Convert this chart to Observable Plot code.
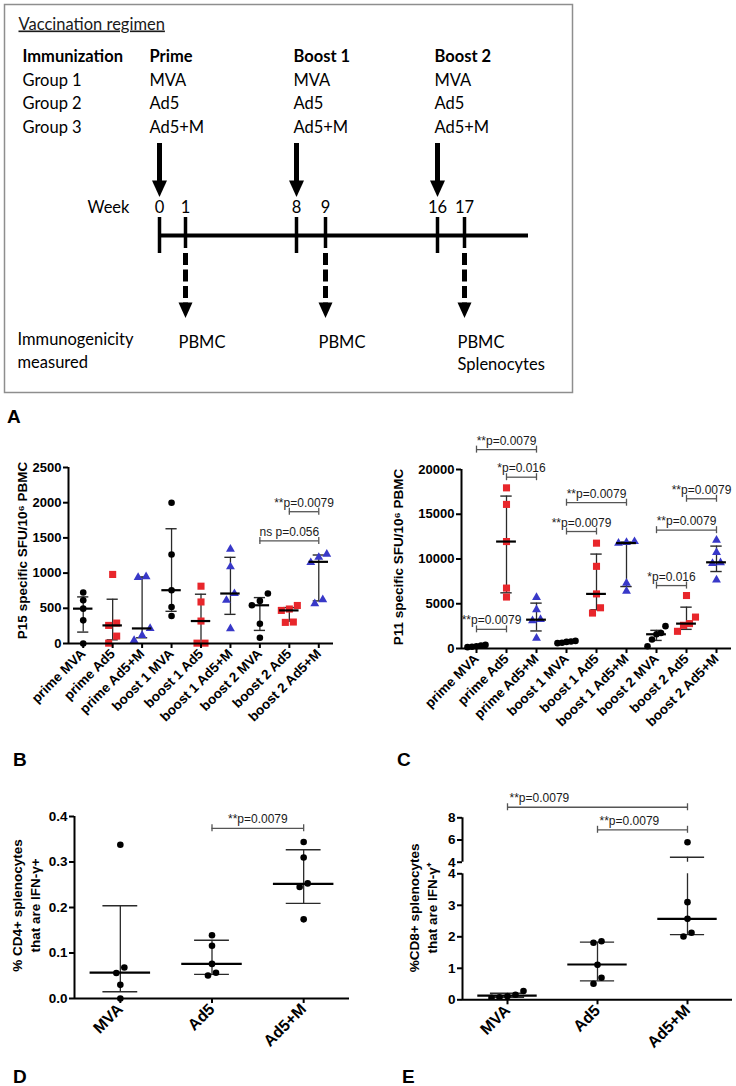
<!DOCTYPE html>
<html><head><meta charset="utf-8">
<script src="https://cdn.jsdelivr.net/npm/d3@7"></script>
<script src="https://cdn.jsdelivr.net/npm/@observablehq/plot@0.6"></script>
<style>
html,body{margin:0;padding:0;background:#fff;}
#page{position:relative;width:736px;height:1086px;overflow:hidden;background:#fff;}
.letter{position:absolute;font:bold 19px "Liberation Sans",Arial,sans-serif;line-height:19px;color:#000;}
</style></head><body><div id="page"></div>
<script>
// ---------------- DATA ----------------
// Vaccination regimen diagram
const immunizationSteps = ["Prime", "Boost 1", "Boost 2"];
const immunizationWeeks = [0, 8, 16];
const groupNames = ["Group 1", "Group 2", "Group 3"];
const groupVaccines = ["MVA", "Ad5", "Ad5+M"];
const weekTicks = [0, 1, 8, 9, 16, 17];
const measureWeeks = [1, 9, 17];
const measureLabels = ["PBMC", "PBMC", "PBMC\nSplenocytes"];

// Panels A-left (P15) and A-right (P11)
const categoriesBC = ["prime MVA", "prime Ad5", "prime Ad5+M", "boost 1 MVA", "boost 1 Ad5", "boost 1 Ad5+M", "boost 2 MVA", "boost 2 Ad5", "boost 2 Ad5+M"];
const vaccineBC = ["MVA", "Ad5", "Ad5+M", "MVA", "Ad5", "Ad5+M", "MVA", "Ad5", "Ad5+M"];

const p15Values = [
  [724, 614, 495, 329, 0],
  [981, 290, 257, 105, 5],
  [950, 940, 214, 114, 43],
  [2000, 1265, 757, 519, 390],
  [814, 590, 319, 5, 5],
  [1340, 1090, 710, 614, 210],
  [710, 605, 543, 281, 81],
  [540, 490, 470, 305, 300],
  [1270, 1225, 1150, 624, 567]
];
const p15Median = [495, 257, 214, 757, 319, 710, 543, 470, 1160];
const p15Lower = [162, 52, 81, 457, 0, 414, 186, 319, 605];
const p15Upper = [662, 629, 945, 1630, 700, 1224, 652, 510, 1257];
const p15Ticks = [0, 500, 1000, 1500, 2000, 2500];
const p15BracketFrom = [7, 6];
const p15BracketTo = [8, 8];
const p15BracketY = [1872, 1457];
const p15BracketLabel = ["**p=0.0079", "ns p=0.056"];

const p11Values = [
  [400, 320, 250, 200, 150],
  [17950, 16100, 11950, 6750, 5750],
  [5700, 4350, 3250, 3100, 1150],
  [850, 780, 740, 650, 600],
  [11770, 9180, 6100, 4550, 3960],
  [11950, 11850, 11780, 7290, 6400],
  [2500, 1730, 1590, 1000, 250],
  [5920, 3510, 2780, 2590, 1920],
  [12100, 10730, 9600, 9500, 7670]
];
const p11Median = [260, 11950, 3220, 740, 6100, 11780, 1590, 2780, 9630];
const p11Lower = [180, 6220, 1960, 620, 4330, 6920, 900, 2140, 8600];
const p11Upper = [350, 17030, 5070, 810, 10550, 11900, 2030, 4620, 11440];
const p11Ticks = [0, 5000, 10000, 15000, 20000];
const p11BracketFrom = [0, 1, 3, 3, 7, 6, 6, 0];
const p11BracketTo = [2, 2, 5, 4, 8, 8, 7, 1];
const p11BracketY = [22220, 19140, 16290, 13070, 16730, 13220, 7030, 2140];
const p11BracketLabel = ["**p=0.0079", "*p=0.016", "**p=0.0079", "**p=0.0079", "**p=0.0079", "**p=0.0079", "*p=0.016", "**p=0.0079"];

// Panels B (CD4) and C (CD8)
const categoriesDE = ["MVA", "Ad5", "Ad5+M"];
const cd4Values = [
  [0.338, 0.068, 0.056, 0.030, 0.0],
  [0.139, 0.116, 0.076, 0.0565, 0.0507],
  [0.344, 0.310, 0.253, 0.245, 0.174]
];
const cd4Median = [0.057, 0.076, 0.252];
const cd4Lower = [0.015, 0.053, 0.209];
const cd4Upper = [0.204, 0.128, 0.327];
const cd4Ticks = [0, 0.1, 0.2, 0.3, 0.4];
const cd4BracketFrom = [1];
const cd4BracketTo = [2];
const cd4BracketY = [0.374];
const cd4BracketLabel = ["**p=0.0079"];

const cd8Values = [
  [0.28, 0.16, 0.11, 0.08, 0.06],
  [1.86, 1.81, 1.11, 0.70, 0.51],
  [5.8, 3.10, 2.57, 2.13, 2.01]
];
const cd8Median = [0.13, 1.12, 2.57];
const cd8Lower = [0.08, 0.60, 2.07];
const cd8Upper = [0.21, 1.83, 4.45];
const cd8LowerTicks = [0, 1, 2, 3, 4];
const cd8UpperTicks = [4, 6, 8];
const cd8BracketFrom = [0, 1];
const cd8BracketTo = [2, 2];
const cd8BracketY = [8.95, 6.92];
const cd8BracketLabel = ["**p=0.0079", "**p=0.0079"];

const panelLetters = ["A", "B", "C", "D", "E"];

// ---------------- STYLE ----------------
const RED = "#e8262b", BLUE = "#3838c8";
const markerStyle = {
  MVA: {fill: "#000", symbol: "circle", r: 3.3},
  Ad5: {fill: RED, symbol: "square", r: 4.0},
  "Ad5+M": {fill: BLUE, symbol: "triangle", r: 3.3}
};
const ARIAL = "'Liberation Sans', Arial, Helvetica, sans-serif";
const page = document.getElementById("page");
function place(el, left, top) {
  el.style.position = "absolute";
  el.style.left = left + "px";
  el.style.top = top + "px";
  page.appendChild(el);
}

// horizontal spreading of overlapping points (scatter-plot layout)
function spreadOffsets(vals, yDomain, frameH, bandPx) {
  const py = d3.scaleLinear(yDomain, [frameH, 0]);
  const idx = d3.range(vals.length).sort((a, b) => vals[a] - vals[b]);
  const off = new Array(vals.length).fill(0);
  let cluster = [idx[0]];
  const flush = () => {
    const m = cluster.length;
    const sp = m > 1 ? Math.min(8, 0.6 * bandPx / (m - 1)) : 0;
    cluster.forEach((j, k) => off[j] = (k - (m - 1) / 2) * sp / bandPx);
  };
  for (let k = 1; k < idx.length; k++) {
    if (Math.abs(py(vals[idx[k]]) - py(vals[idx[k - 1]])) < 7.5) cluster.push(idx[k]);
    else { flush(); cluster = [idx[k]]; }
  }
  flush();
  return off;
}

function chart(o) {
  const n = o.cats.length;
  const frameW = o.width - o.ml - o.mr, frameH = o.height - o.mt - o.mb;
  const bandPx = frameW / n;
  const rows = [];
  o.values.forEach((vals, i) => {
    const off = spreadOffsets(vals, o.spreadDomain || o.yDomain, o.spreadH || frameH, bandPx);
    vals.forEach((v, k) => rows.push({i, v, x: i + off[k], key: o.styleKeys[i]}));
  });
  const groups = o.cats.map((c, i) => ({i, med: o.med[i], lo: o.lo[i], hi: o.hi[i]}));
  const clip = !!o.clip;
  const capW = 0.19, medW = 0.33;
  const EB = "#2a2a2a";
  const marks = [];
  marks.push(Plot.ruleX(groups, {x: "i", y1: "lo", y2: "hi", stroke: EB, strokeWidth: 1.3, clip}));
  marks.push(Plot.ruleY(groups, {y: "lo", x1: d => d.i - capW, x2: d => d.i + capW, stroke: EB, strokeWidth: 1.4, clip}));
  marks.push(Plot.ruleY(groups, {y: "hi", x1: d => d.i - capW, x2: d => d.i + capW, stroke: EB, strokeWidth: 1.4, clip}));
  for (const key of Object.keys(markerStyle)) {
    const s = markerStyle[key];
    marks.push(Plot.dot(rows.filter(d => d.key === key), {x: "x", y: "v", fill: s.fill, symbol: s.symbol, r: s.r, clip}));
  }
  marks.push(Plot.ruleY(groups, {y: "med", x1: d => d.i - medW, x2: d => d.i + medW, stroke: "#000", strokeWidth: 2.2, clip}));
  // axis lines
  marks.push(Plot.ruleX([-0.5], {y1: o.yDomain[0], y2: o.yDomain[1], strokeWidth: 2}));
  if (o.xAxis) marks.push(Plot.ruleY([o.yDomain[0]], {x1: -0.5, x2: n - 0.5, strokeWidth: 2}));
  marks.push(Plot.axisY({ticks: o.yTicks, tickFormat: o.tickFormat, tickSize: 5, tickPadding: 2, strokeWidth: 2,
    fontWeight: "bold", fontSize: o.fs, label: null}));
  if (o.xAxis) marks.push(Plot.axisX({ticks: d3.range(n), tickFormat: i => o.cats[i], tickRotate: -45, tickSize: 5,
    tickPadding: 3, strokeWidth: 2, fontWeight: "bold", fontSize: o.xfs || o.fs, label: null}));
  // significance brackets
  if (o.bFrom) {
    const br = o.bFrom.map((f, k) => ({f, t: o.bTo[k], y: o.bY[k], label: o.bLabel[k]}));
    const BC = "#555";
    marks.push(Plot.ruleY(br, {y: "y", x1: "f", x2: "t", stroke: BC, strokeWidth: 1.3}));
    marks.push(Plot.ruleX(br, {x: "f", y1: "y", y2: "y", insetTop: -3.5, insetBottom: -3.5, stroke: BC, strokeWidth: 1.3}));
    marks.push(Plot.ruleX(br, {x: "t", y1: "y", y2: "y", insetTop: -3.5, insetBottom: -3.5, stroke: BC, strokeWidth: 1.3}));
    const start = o.bAnchor === "start";
    marks.push(Plot.text(br, {x: start ? "f" : d => (d.f + d.t) / 2, y: "y", text: "label",
      textAnchor: start ? "start" : "middle", dx: start ? 2 : 0, dy: -5, lineAnchor: "bottom",
      fontSize: 12, fill: "#1a1a1a"}));
  }
  if (o.title) {
    marks.push(Plot.text([o.title], {frameAnchor: "left", rotate: -90, dx: o.tdx, dy: o.tdy, fontWeight: "bold",
      fontSize: o.tfs, lineHeight: o.tlh || 1.2, lineAnchor: "middle", textAnchor: "middle"}));
  }
  return Plot.plot({
    width: o.width, height: o.height,
    marginLeft: o.ml, marginRight: o.mr, marginTop: o.mt, marginBottom: o.mb,
    style: {background: "transparent", overflow: "visible", fontFamily: ARIAL, fontSize: o.fs + "px", color: "#000"},
    x: {domain: [-0.5, n - 0.5], axis: o.xAxis ? undefined : null},
    y: {domain: o.yDomain},
    marks
  });
}

// ---------------- DIAGRAM ----------------
(function () {
  const fs = 16.5, lh = 23.5 / fs;
  const downHead = {draw(ctx, size) {
    const r = Math.sqrt(size / Math.PI);
    ctx.moveTo(-r, 0); ctx.lineTo(r, 0); ctx.lineTo(0, r * 2.2); ctx.closePath();
  }};
  // schematic (non-proportional) week axis of the timeline drawing
  const weekPosition = d3.scaleLinear([0, 1, 8, 9, 16, 17, 19.3], [156, 182, 293, 322, 434, 461, 525]);
  const colDx = [-10, -3, -3];
  const marks = [
    Plot.frame({stroke: "#8e8e8e", strokeWidth: 1.5, inset: 1}),
    Plot.text(["Vaccination regimen"], {frameAnchor: "left", dx: 15, y: 26, lineAnchor: "bottom", fill: "#1a1a1a"}),
    Plot.text(["Immunization"], {frameAnchor: "left", dx: 19, y: 58, lineAnchor: "bottom", fontWeight: "bold"}),
    Plot.text([groupNames.join("\n")], {frameAnchor: "left", dx: 19, y: 129, lineAnchor: "bottom", lineHeight: lh}),
    Plot.text(["Week"], {frameAnchor: "left", dx: 84, y: 209, lineAnchor: "bottom"}),
    Plot.text(["Immunogenicity\nmeasured"], {frameAnchor: "left", dx: 14, y: 364, lineAnchor: "bottom", lineHeight: 23 / fs}),
    Plot.text(weekTicks, {x: d => d, y: 209, text: d => String(d), lineAnchor: "bottom"}),
    Plot.ruleY([232], {x1: 0, x2: 19.3, strokeWidth: 4}),
    Plot.ruleX(immunizationWeeks, {x: d => d, y1: 214, y2: 250, strokeWidth: 3.5}),
    Plot.ruleX(measureWeeks, {x: d => d, y1: 214, y2: 245, strokeWidth: 3.5}),
    Plot.ruleX(immunizationWeeks, {x: d => d, y1: 140, y2: 180, strokeWidth: 5}),
    Plot.dot(immunizationWeeks, {x: d => d, y: 177, symbol: downHead, r: 7.5, fill: "#000"}),
    Plot.ruleX(measureWeeks, {x: d => d, y1: 250, y2: 301, strokeWidth: 5, strokeDasharray: "12,4.5"}),
    Plot.dot(measureWeeks, {x: d => d, y: 299, symbol: downHead, r: 7, fill: "#000"}),
    Plot.text(measureLabels, {x: measureWeeks, y: 341 - 0.71 * fs, text: d => d, lineAnchor: "top", textAnchor: "start", dx: -7, lineHeight: 22 / fs})
  ];
  immunizationSteps.forEach((step, j) => {
    marks.push(Plot.text([step], {x: [immunizationWeeks[j]], y: 58, dx: colDx[j], textAnchor: "start", lineAnchor: "bottom", fontWeight: "bold"}));
    marks.push(Plot.text([groupVaccines.join("\n")], {x: [immunizationWeeks[j]], y: 129, dx: colDx[j], textAnchor: "start", lineAnchor: "bottom", lineHeight: lh}));
  });
  const svg = Plot.plot({
    width: 570, height: 390, margin: 0,
    style: {background: "transparent", overflow: "visible", fontFamily: "Lato, 'Open Sans', sans-serif", fontSize: fs + "px", color: "#000"},
    x: {type: "linear", transform: weekPosition, domain: [0, 570], range: [0, 570], axis: null},
    y: {type: "identity", axis: null},
    marks
  });
  d3.select(svg).selectAll("text").filter(function () { return this.textContent === "Vaccination regimen"; })
    .style("text-decoration", "underline");
  place(svg, 3, 3);
})();

// ---------------- CHARTS ----------------
const bcStyle = vaccineBC;
place(chart({
  cats: categoriesBC, styleKeys: bcStyle, values: p15Values, med: p15Median, lo: p15Lower, hi: p15Upper,
  yDomain: [0, 2500], yTicks: p15Ticks, tickFormat: d => String(d), fs: 13, xfs: 13.5, xAxis: true,
  width: 370, height: 300, ml: 68, mr: 37, mt: 27, mb: 97,
  bFrom: p15BracketFrom, bTo: p15BracketTo, bY: p15BracketY, bLabel: p15BracketLabel,
  title: "P15 specific SFU/10⁶ PBMC", tdx: -47, tdy: -5, tfs: 13.5
}), 0, 440);

place(chart({
  cats: categoriesBC, styleKeys: bcStyle, values: p11Values, med: p11Median, lo: p11Lower, hi: p11Upper,
  yDomain: [0, 20000], yTicks: p11Ticks, tickFormat: d => String(d), fs: 13, xfs: 13.5, xAxis: true,
  width: 366, height: 320, ml: 91, mr: 5, mt: 49, mb: 92,
  bFrom: p11BracketFrom, bTo: p11BracketTo, bY: p11BracketY, bLabel: p11BracketLabel,
  title: "P11 specific SFU/10⁶ PBMC", tdx: -64, tdy: -2, tfs: 13.5
}), 370, 420);

const deStyle = ["MVA", "MVA", "MVA"]; // all black circles
place(chart({
  cats: categoriesDE, styleKeys: deStyle, values: cd4Values, med: cd4Median, lo: cd4Lower, hi: cd4Upper,
  yDomain: [0, 0.4], yTicks: cd4Ticks, tickFormat: d3.format(".1f"), fs: 13.5, xfs: 16, xAxis: true,
  width: 370, height: 300, ml: 74, mr: 21, mt: 36, mb: 82,
  bFrom: cd4BracketFrom, bTo: cd4BracketTo, bY: cd4BracketY, bLabel: cd4BracketLabel,
  title: "% CD4+ splenocytes\nthat are IFN-γ+", tdx: -49.5, tdy: -2, tfs: 13.5, tlh: 1.4
}), 0, 780);

// broken y axis: upper segment (4-8)
place(chart({
  cats: categoriesDE, styleKeys: deStyle, values: cd8Values, med: cd8Median, lo: cd8Lower, hi: cd8Upper,
  yDomain: [4, 8], yTicks: cd8UpperTicks, tickFormat: d => String(d), fs: 13.5, xAxis: false, clip: true,
  spreadDomain: [0, 4], spreadH: 126,
  width: 366, height: 86, ml: 92, mr: 4, mt: 37.3, mb: 4.3,
  bFrom: cd8BracketFrom, bTo: cd8BracketTo, bY: cd8BracketY, bLabel: cd8BracketLabel, bAnchor: "start"
}), 370, 780);
// lower segment (0-4)
place(chart({
  cats: categoriesDE, styleKeys: deStyle, values: cd8Values, med: cd8Median, lo: cd8Lower, hi: cd8Upper,
  yDomain: [0, 4], yTicks: cd8LowerTicks, tickFormat: d => String(d), fs: 13.5, xfs: 16, xAxis: true, clip: true,
  width: 366, height: 214, ml: 92, mr: 4, mt: 7.3, mb: 80.7,
  title: "%CD8+ splenocytes\nthat are IFN-γ⁺", tdx: -40, tdy: -29, tfs: 13.5, tlh: 1.35
}), 370, 866);

// panel letters
const letterPos = [[7, 423], [13, 766], [397, 766], [13, 1083], [402, 1083]];
panelLetters.forEach((L, k) => {
  const d = document.createElement("div");
  d.className = "letter";
  d.textContent = L;
  d.style.left = letterPos[k][0] + "px";
  d.style.top = (letterPos[k][1] - 16) + "px";
  page.appendChild(d);
});
</script>
</body></html>
